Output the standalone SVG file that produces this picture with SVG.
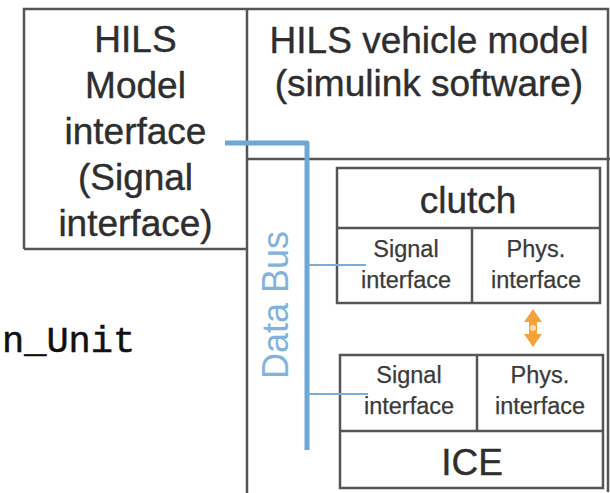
<svg xmlns="http://www.w3.org/2000/svg" width="610" height="493" viewBox="0 0 610 493">
  <style>
    .frame { fill: none; stroke: #555; stroke-width: 2.5; }
    .cell { fill: #fff; stroke: #555; stroke-width: 2.5; }
    .big { font-family: "Liberation Sans", Arial, sans-serif; font-size: 37px; fill: #2e2e2e; stroke: #2e2e2e; stroke-width: 0.4; text-anchor: middle; }
    .small { font-family: "Liberation Sans", Arial, sans-serif; font-size: 23.5px; fill: #3a3a3a; stroke: #3a3a3a; stroke-width: 0.25; text-anchor: middle; }
    .bus { fill: none; stroke: #6fa7d5; stroke-width: 5; stroke-linejoin: round; }
    .tap { fill: none; stroke: #7aaed8; stroke-width: 2; }
    .buslabel { font-family: "Liberation Sans", Arial, sans-serif; font-size: 36px; fill: #82b3dd; text-anchor: middle; }
    .code { font-family: "Liberation Mono", "Courier New", monospace; font-size: 37px; fill: #111; stroke: #111; stroke-width: 0.5; }
  </style>

  <rect width="610" height="493" fill="#fff"/>

  <!-- Outer frame and partitions -->
  <g id="frame">
    <path class="frame" d="M24,249 V9 H608 V492"/>
    <line class="frame" x1="247" y1="9" x2="247" y2="493"/>
    <line class="frame" x1="24" y1="249" x2="247" y2="249"/>
    <line class="frame" x1="247" y1="159" x2="610" y2="159"/>
  </g>

  <!-- Left panel: model interface -->
  <g id="hils-model-interface">
    <text class="big" x="135.5" y="52">HILS</text>
    <text class="big" x="135.5" y="98">Model</text>
    <text class="big" x="135.5" y="144">interface</text>
    <text class="big" x="135.5" y="190">(Signal</text>
    <text class="big" x="135.5" y="236">interface)</text>
  </g>

  <!-- Right panel title -->
  <g id="hils-vehicle-model">
    <text class="big" x="429" y="53">HILS vehicle model</text>
    <text class="big" x="429" y="96">(simulink software)</text>
  </g>

  <!-- Clutch block -->
  <g id="clutch">
    <rect class="cell" x="337" y="168" width="263" height="135"/>
    <line class="frame" x1="337" y1="228" x2="600" y2="228"/>
    <line class="frame" x1="472" y1="228" x2="472" y2="303"/>
    <text class="big" x="468" y="213">clutch</text>
    <text class="small" x="406" y="257">Signal</text>
    <text class="small" x="406" y="288">interface</text>
    <text class="small" x="536" y="257">Phys.</text>
    <text class="small" x="536" y="288">interface</text>
  </g>

  <!-- ICE block -->
  <g id="ice">
    <rect class="cell" x="340" y="355" width="263" height="133"/>
    <line class="frame" x1="340" y1="431" x2="603" y2="431"/>
    <line class="frame" x1="477" y1="355" x2="477" y2="431"/>
    <text class="small" x="409" y="383">Signal</text>
    <text class="small" x="409" y="414">interface</text>
    <text class="small" x="540" y="383">Phys.</text>
    <text class="small" x="540" y="414">interface</text>
    <text class="big" x="472" y="475">ICE</text>
  </g>

  <!-- Data bus label -->
  <g id="data-bus">
    <text class="buslabel" transform="translate(288,305) rotate(-90)">Data Bus</text>
  </g>

  <!-- Connectors -->
  <g id="connectors">
    <path class="bus" d="M225,143 H307 V450"/>
    <line class="tap" x1="307" y1="265" x2="366" y2="265"/>
    <line class="tap" x1="307" y1="394" x2="368" y2="394"/>
    <!-- physical coupling between clutch and ICE -->
    <path fill="#f4a23c" d="M533,309 L542,322 L537,322 L537,334 L542,334 L533,347 L524,334 L529,334 L529,322 L524,322 Z"/>
    <circle cx="533" cy="328" r="3" fill="#fbd9a8"/>
  </g>

  <!-- Partial code label on the left -->
  <text class="code" x="2" y="352">n_Unit</text>
</svg>
